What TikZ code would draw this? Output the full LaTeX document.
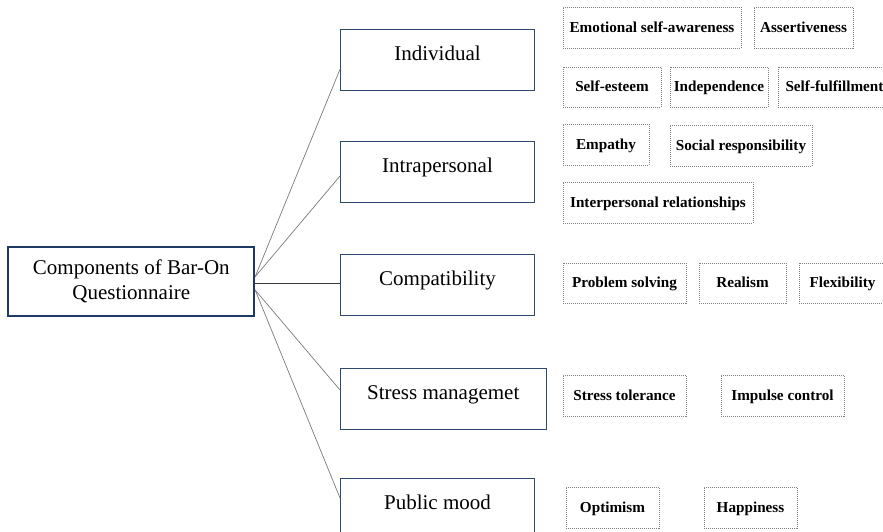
\documentclass[tikz,border=0pt]{standalone}
\usepackage{fontspec}
\setmainfont{Liberation Serif}
\usetikzlibrary{calc}
\definecolor{navyA}{HTML}{1F3864}
\definecolor{navyB}{HTML}{2E4870}
\definecolor{linegray}{HTML}{7A7A7A}
\definecolor{linedark}{HTML}{3A3A3A}
\definecolor{dotgray}{HTML}{808080}
\tikzset{
  mainbox/.style={draw=navyA, line width=1.7pt, minimum width=246pt, minimum height=69.3pt,
    inner sep=0pt, align=center, font=\fontsize{21}{25}\selectfont},
  catbox/.style={draw=navyB, line width=1pt, minimum width=194pt, inner xsep=0pt, inner ysep=0pt,
    text height=31.5pt, text depth=30pt, font=\fontsize{21}{25}\selectfont},
  subbox/.style={draw=dotgray, line width=0.8pt, dash pattern=on 1pt off 1pt,
    inner sep=0pt, minimum height=41pt, text height=12pt, text depth=3pt,
    font=\fontsize{15.2}{17}\selectfont\bfseries},
  conn/.style={draw=linegray, line width=0.7pt},
  conndark/.style={draw=linedark, line width=0.8pt}
}
\begin{document}
\begin{tikzpicture}[x=1pt,y=-1pt]
\useasboundingbox (0,0) rectangle (883,531);

% central node
\node[mainbox] (main) at (131.3,281.35) {Components of Bar-On\\Questionnaire};

% categories
\node[catbox] (ind) at (437.5,59.75) {Individual};
\node[catbox] (intra) at (437.5,171.75) {Intrapersonal};
\node[catbox] (comp) at (437.5,284.75) {Compatibility};
\node[catbox, minimum width=205.5pt] (stress) at (443.25,398.75) {Stress managemet};
\node[catbox] (pub) at (437.5,508.75) {Public mood};

% connector anchors
\coordinate (mU) at ($(main.east)+(0,-4.65)$);
\coordinate (mM) at ($(main.east)+(0,1.95)$);
\coordinate (mL) at ($(main.east)+(0,8.65)$);

\draw[conn] (mU) -- ($(ind.west)+(0,9.5)$);
\draw[conn] (mU) -- ($(intra.west)+(0,4.25)$);
\draw[conndark] (mM) -- ($(comp.west)+(0,-1.45)$);
\draw[conn] (mL) -- ($(stress.west)+(0,-8.75)$);
\draw[conn] (mL) -- ($(pub.west)+(0,-10.75)$);

% sub-components
\node[subbox, minimum width=178pt] (esa) at (652,27.5) {Emotional self-awareness};
\node[subbox, minimum width=99pt] (ass) at (803.5,27.5) {Assertiveness};
\node[subbox, minimum width=98pt, minimum height=40pt] (se) at (612,87) {Self-esteem};
\node[subbox, minimum width=98pt, minimum height=40pt] (ind2) at (719,87) {Independence};
\node[subbox, minimum width=113pt, minimum height=40pt] (sf) at (834.5,87) {Self-fulfillment};

\node[subbox, minimum width=86pt] (emp) at (606,144.5) {Empathy};
\node[subbox, minimum width=142pt] (soc) at (741,145.5) {Social responsibility};
\node[subbox, minimum width=190pt] (ipr) at (658,202.5) {Interpersonal relationships};

\node[subbox, minimum width=123pt, minimum height=40pt] (ps) at (624.5,283) {Problem solving};
\node[subbox, minimum width=87pt, minimum height=40pt] (real) at (742.5,283) {Realism};
\node[subbox, minimum width=87pt, minimum height=40pt] (flex) at (842.5,283) {Flexibility};

\node[subbox, minimum width=123pt] (st) at (624.5,395.5) {Stress tolerance};
\node[subbox, minimum width=123pt] (ic) at (782.5,395.5) {Impulse control};

\node[subbox, minimum width=93pt] (opt) at (612.5,507.5) {Optimism};
\node[subbox, minimum width=93pt] (hap) at (750.5,507.5) {Happiness};
\end{tikzpicture}
\end{document}
